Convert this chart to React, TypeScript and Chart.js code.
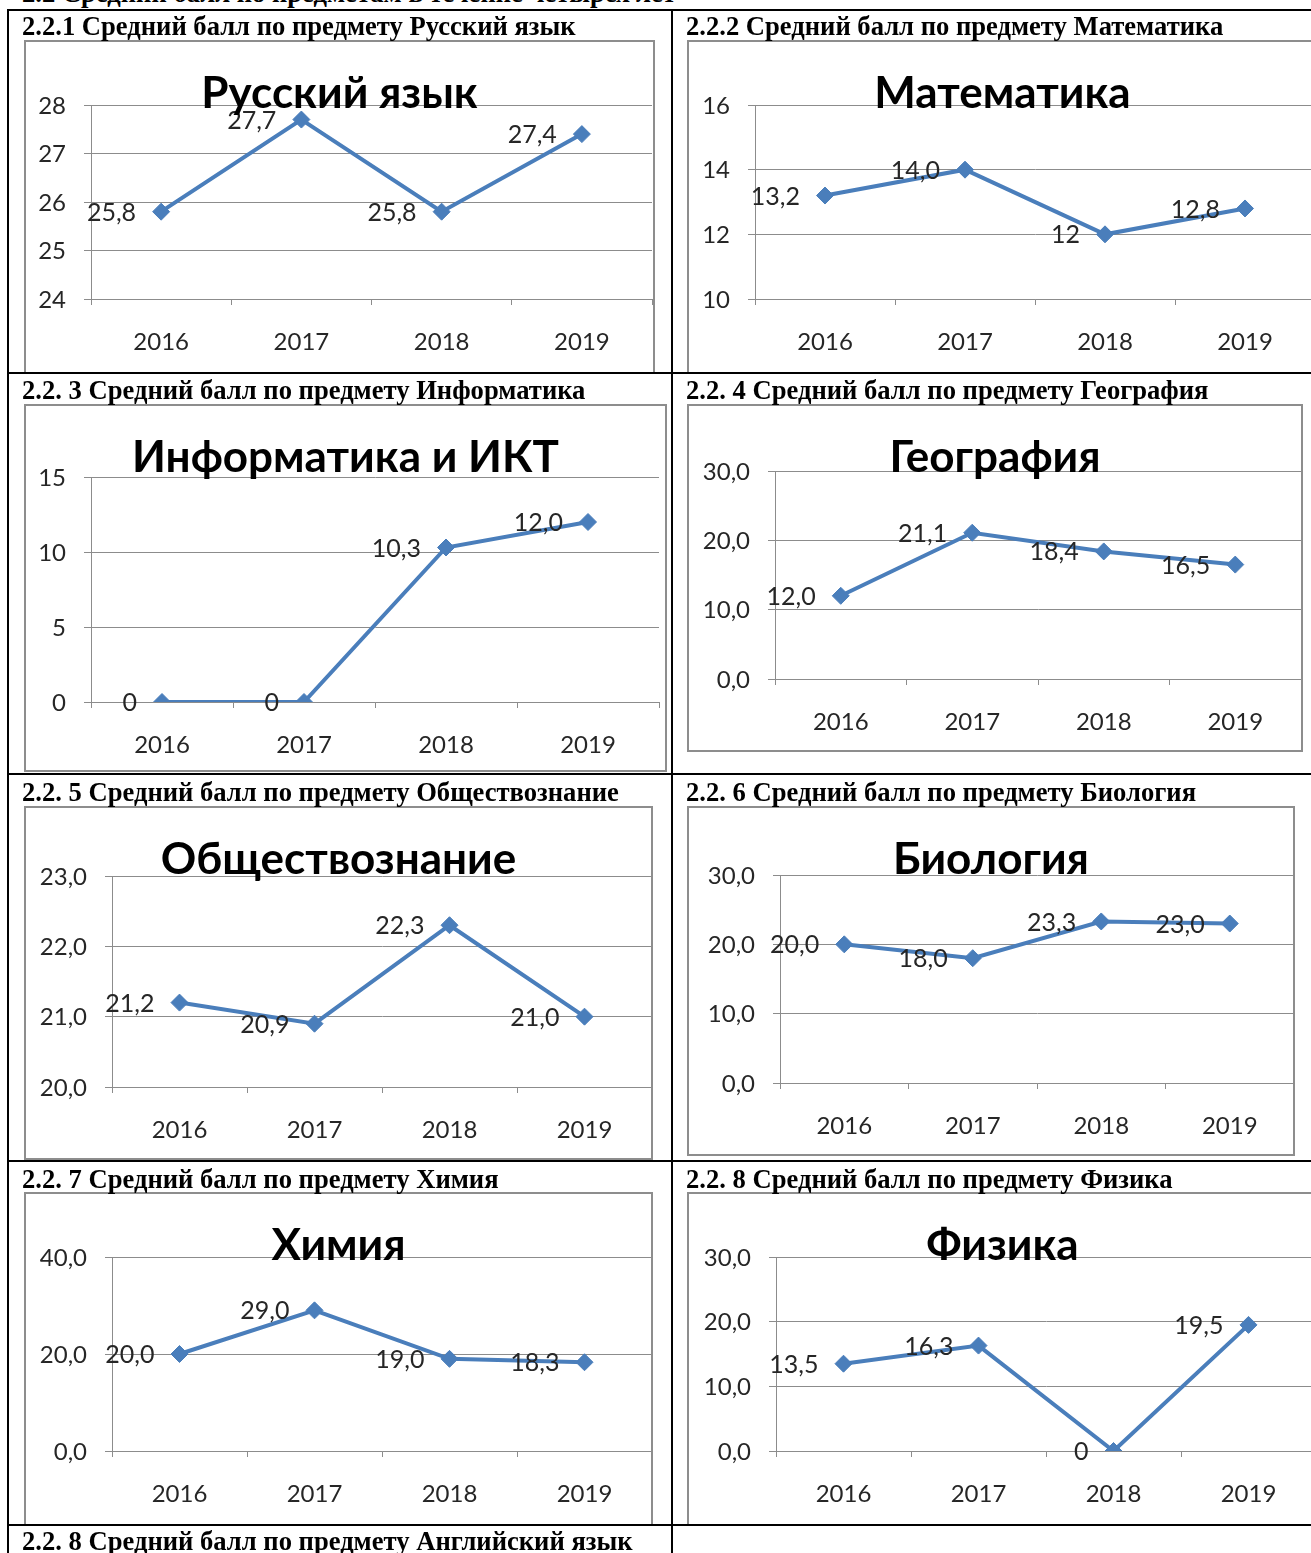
import React, { useEffect, useRef } from 'react';
import { Chart, registerables } from 'chart.js';

Chart.register(...registerables);

// ---------- data ----------
const years = ['2016', '2017', '2018', '2019'];

const russianValues = [25.8, 27.7, 25.8, 27.4];
const russianLabels = ['25,8', '27,7', '25,8', '27,4'];

const mathValues = [13.2, 14.0, 12.0, 12.8];
const mathLabels = ['13,2', '14,0', '12', '12,8'];

const informaticsValues = [0, 0, 10.3, 12.0];
const informaticsLabels = ['0', '0', '10,3', '12,0'];

const geographyValues = [12.0, 21.1, 18.4, 16.5];
const geographyLabels = ['12,0', '21,1', '18,4', '16,5'];

const socialValues = [21.2, 20.9, 22.3, 21.0];
const socialLabels = ['21,2', '20,9', '22,3', '21,0'];

const biologyValues = [20.0, 18.0, 23.3, 23.0];
const biologyLabels = ['20,0', '18,0', '23,3', '23,0'];

const chemistryValues = [20.0, 29.0, 19.0, 18.3];
const chemistryLabels = ['20,0', '29,0', '19,0', '18,3'];

const physicsValues = [13.5, 16.3, 0, 19.5];
const physicsLabels = ['13,5', '16,3', '0', '19,5'];

const pageHeading = '2.2 Средний балл по предметам в течение четырех лет';

const headings = [
  '2.2.1 Средний балл по предмету Русский язык',
  '2.2.2 Средний балл по предмету Математика',
  '2.2. 3 Средний балл по предмету Информатика',
  '2.2. 4 Средний балл по предмету География',
  '2.2. 5 Средний балл по предмету Обществознание',
  '2.2. 6 Средний балл по предмету Биология',
  '2.2. 7 Средний балл по предмету Химия',
  '2.2. 8 Средний балл по предмету Физика',
  '2.2. 8 Средний балл по предмету Английский язык',
];

// ---------- styles ----------
const FONT = 'Lato, "Open Sans", "Noto Sans", sans-serif';
const LINE = '#4A7EBB';
const GRID = '#8C8C8C';
const TEXT = '#262626';

interface Spec {
  title: string;
  values: number[];
  labels: string[];
  yMin: number;
  yMax: number;
  yStep: number;
  decimals: number;
  frame: [number, number, number, number]; // x, y, w, h
  plot: [number, number, number, number]; // left, top, right, bottom
  titleBase: number;
}

const specs: Spec[] = [
  { title: 'Русский язык', values: russianValues, labels: russianLabels, yMin: 24, yMax: 28, yStep: 1, decimals: 0,
    frame: [24, 40, 631, 345], plot: [91, 105, 652, 299], titleBase: 108 },
  { title: 'Математика', values: mathValues, labels: mathLabels, yMin: 10, yMax: 16, yStep: 2, decimals: 0,
    frame: [687, 40, 631, 345], plot: [755, 105, 1315, 299], titleBase: 108 },
  { title: 'Информатика и ИКТ', values: informaticsValues, labels: informaticsLabels, yMin: 0, yMax: 15, yStep: 5, decimals: 0,
    frame: [24, 404, 643, 368], plot: [91, 477, 659, 702], titleBase: 472 },
  { title: 'География', values: geographyValues, labels: geographyLabels, yMin: 0, yMax: 30, yStep: 10, decimals: 1,
    frame: [687, 404, 616, 348], plot: [775, 471, 1301, 679], titleBase: 472 },
  { title: 'Обществознание', values: socialValues, labels: socialLabels, yMin: 20, yMax: 23, yStep: 1, decimals: 1,
    frame: [24, 806, 629, 354], plot: [112, 876, 652, 1087], titleBase: 874 },
  { title: 'Биология', values: biologyValues, labels: biologyLabels, yMin: 0, yMax: 30, yStep: 10, decimals: 1,
    frame: [687, 806, 608, 350], plot: [780, 875, 1294, 1083], titleBase: 874 },
  { title: 'Химия', values: chemistryValues, labels: chemistryLabels, yMin: 0, yMax: 40, yStep: 20, decimals: 1,
    frame: [24, 1192, 629, 345], plot: [112, 1257, 652, 1451], titleBase: 1260 },
  { title: 'Физика', values: physicsValues, labels: physicsLabels, yMin: 0, yMax: 30, yStep: 10, decimals: 1,
    frame: [687, 1192, 631, 345], plot: [776, 1257, 1316, 1451], titleBase: 1260 },
];

function ChartBox({ spec }: { spec: Spec }) {
  const ref = useRef<HTMLCanvasElement>(null);
  const [fx, fy, fw, fh] = spec.frame;

  useEffect(() => {
    if (!ref.current) return;
    const [pl, pt, pr, pb] = spec.plot;
    const yW = pl - fx - 2;
    const xH = fy + fh - pb - 2;
    const padding = {
      left: 2,
      top: pt - fy,
      right: fx + fw - pr,
      bottom: 2,
    };
    const extras = {
      id: 'excelExtras',
      afterDatasetsDraw(chart: any) {
        const ctx = chart.ctx as CanvasRenderingContext2D;
        const meta = chart.getDatasetMeta(0);
        ctx.save();
        ctx.font = `25px ${FONT}`;
        ctx.fillStyle = TEXT;
        ctx.textAlign = 'right';
        ctx.textBaseline = 'middle';
        meta.data.forEach((p: any, i: number) => {
          ctx.fillText(spec.labels[i], p.x - 25, p.y + 1);
        });
        ctx.font = `bold 44px ${FONT}`;
        ctx.fillStyle = '#000';
        ctx.textAlign = 'center';
        ctx.textBaseline = 'alphabetic';
        ctx.fillText(spec.title, fw / 2, spec.titleBase - fy);
        ctx.restore();
      },
    };
    const chart = new Chart(ref.current, {
      type: 'line',
      data: {
        labels: years,
        datasets: [
          {
            data: spec.values,
            borderColor: LINE,
            backgroundColor: LINE,
            borderWidth: 4,
            pointStyle: 'rectRot',
            pointRadius: 8.5,
            pointBorderWidth: 1,
            pointBackgroundColor: LINE,
            pointBorderColor: LINE,
            tension: 0,
          },
        ],
      },
      options: {
        responsive: false,
        animation: false,
        layout: { padding, autoPadding: false },
        plugins: {
          legend: { display: false },
          tooltip: { enabled: false },
          title: { display: false },
        },
        scales: {
          x: {
            type: 'category',
            offset: true,
            grid: {
              display: true,
              offset: true,
              drawOnChartArea: false,
              drawTicks: true,
              tickLength: 6,
              color: GRID,
            },
            border: { display: true, color: GRID, width: 1 },
            ticks: {
              font: { family: FONT, size: 24 },
              color: TEXT,
              padding: 23,
              maxRotation: 0,
              autoSkip: false,
            },
            afterFit: (s: any) => {
              s.height = xH;
              s.paddingLeft = 0;
              s.paddingRight = 0;
            },
          },
          y: {
            min: spec.yMin,
            max: spec.yMax,
            grid: { color: GRID, tickLength: 7, drawTicks: true },
            border: { display: true, color: GRID, width: 1 },
            ticks: {
              stepSize: spec.yStep,
              font: { family: FONT, size: 24 },
              color: TEXT,
              padding: 18,
              labelOffset: 1,
              callback: (v: any) => Number(v).toFixed(spec.decimals).replace('.', ','),
            },
            afterFit: (s: any) => {
              s.width = yW;
              s.paddingTop = 0;
              s.paddingBottom = 0;
            },
          },
        },
      },
      plugins: [extras],
    } as any);
    return () => chart.destroy();
  }, [spec]);

  return (
    <>
      <canvas
        ref={ref}
        width={fw}
        height={fh}
        style={{ position: 'absolute', left: fx, top: fy, width: fw, height: fh }}
      />
      <div
        style={{
          position: 'absolute',
          left: fx,
          top: fy,
          width: fw,
          height: fh,
          boxSizing: 'border-box',
          border: '2px solid #8d8d8d',
          pointerEvents: 'none',
        }}
      />
    </>
  );
}

const headingCenters = [26, 26, 390, 390, 792, 792, 1179, 1179, 1541];
const headingLefts = [22, 686, 22, 686, 22, 686, 22, 686, 22];

// cell clip rectangles: [x, y, w, h]
const cells: [number, number, number, number][] = [
  [9, 11, 662, 361],
  [673, 11, 700, 361],
  [9, 374, 662, 399],
  [673, 374, 700, 399],
  [9, 775, 662, 385],
  [673, 775, 700, 385],
  [9, 1162, 662, 362],
  [673, 1162, 700, 362],
];

export default function App() {
  return (
    <div
      style={{
        position: 'absolute',
        left: 0,
        top: 0,
        width: 1311,
        height: 1553,
        overflow: 'hidden',
        background: '#fff',
        fontFamily: '"Liberation Serif", "Times New Roman", serif',
      }}
    >
      <div
        style={{
          position: 'absolute',
          left: 22,
          top: -22,
          fontSize: 26.6,
          fontWeight: 'bold',
          lineHeight: '30px',
          whiteSpace: 'nowrap',
        }}
      >
        {pageHeading}
      </div>

      {cells.map((c, i) => (
        <div
          key={'cell' + i}
          style={{ position: 'absolute', left: c[0], top: c[1], width: c[2], height: c[3], overflow: 'hidden' }}
        >
          <div style={{ position: 'absolute', left: -c[0], top: -c[1], width: 1311, height: 1553 }}>
            <ChartBox spec={specs[i]} />
          </div>
        </div>
      ))}

      {headings.map((h, i) => (
        <div
          key={'h' + i}
          style={{
            position: 'absolute',
            left: headingLefts[i],
            top: headingCenters[i] - 15,
            fontSize: 26.6,
            fontWeight: 'bold',
            lineHeight: '30px',
            whiteSpace: 'nowrap',
          }}
        >
          {h}
        </div>
      ))}

      {[9, 372, 773, 1160, 1524].map((y) => (
        <div key={'hl' + y} style={{ position: 'absolute', left: 7, top: y, width: 1311, height: 2, background: '#000' }} />
      ))}
      <div style={{ position: 'absolute', left: 7, top: 9, width: 2, height: 1553, background: '#000' }} />
      <div style={{ position: 'absolute', left: 671, top: 9, width: 2, height: 1553, background: '#000' }} />
    </div>
  );
}
